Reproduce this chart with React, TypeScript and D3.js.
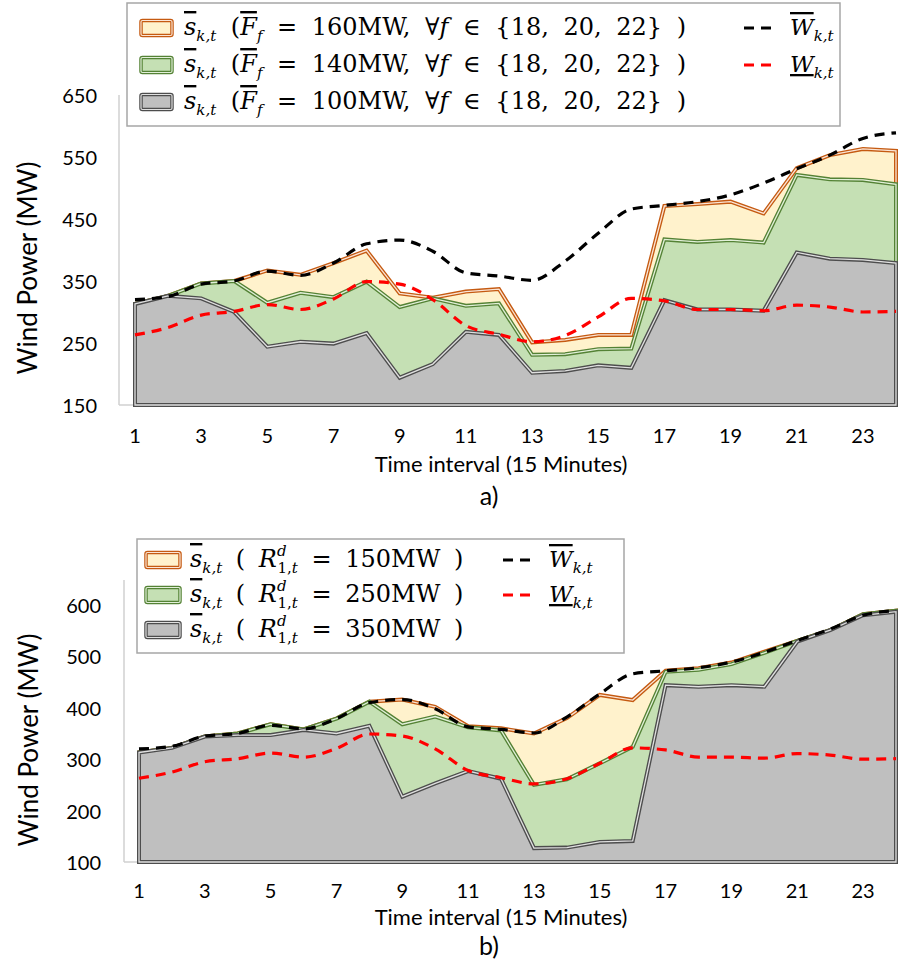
import * as d3 from "d3";

// time intervals (15 min)
const periods = [1, 2, 3, 4, 5, 6, 7, 8, 9, 10, 11, 12, 13, 14, 15, 16, 17, 18, 19, 20, 21, 22, 23, 24];
const xTickLabels = [1, 3, 5, 7, 9, 11, 13, 15, 17, 19, 21, 23];

// wind bounds (same in both panels)
const wUpper = [320, 325, 345, 350, 366, 359, 379, 410, 416, 398, 363, 358, 351, 382, 427, 466, 472, 478, 489, 508, 531, 553, 580, 589];
const wLower = [263, 275, 295, 301, 312, 304, 321, 349, 345, 320, 278, 264, 252, 262, 292, 322, 318, 304, 304, 302, 311, 308, 300, 301];

// panel a) - line capacity F_f
const f160 = [313, 326, 346, 350, 367, 360, 379, 399, 330, 323, 333, 337, 251, 255, 263, 263, 471, 474, 478, 459, 532, 553, 563, 560];
const f140 = [313, 326, 346, 350, 315, 331, 324, 349, 308, 322, 310, 314, 231, 232, 240, 241, 417, 413, 416, 412, 521, 514, 513, 506];
const f100 = [313, 326, 322, 300, 244, 252, 249, 266, 194, 216, 268, 263, 202, 205, 214, 210, 319, 304, 304, 302, 396, 386, 384, 379];
const ticksA = [150, 250, 350, 450, 550, 650];

// panel b) - ramp down R^d
const r150 = [313, 322, 344, 350, 368, 358, 379, 412, 416, 402, 364, 360, 350, 380, 425, 415, 472, 477, 488, 509, 530, 551, 582, 589];
const r250 = [313, 322, 344, 350, 368, 358, 379, 412, 368, 383, 362, 356, 250, 261, 292, 324, 470, 474, 485, 507, 530, 551, 582, 589];
const r350 = [313, 322, 344, 347, 347, 357, 350, 365, 227, 253, 277, 262, 127, 128, 139, 141, 444, 441, 444, 441, 529, 551, 580, 587];
const ticksB = [100, 200, 300, 400, 500, 600];

const orange = { fill: "#fff2cc", dark: "#c55a11", light: "#fbe5d6" };
const green = { fill: "#c5e0b4", dark: "#548235", light: "#e2f0d9" };
const gray = { fill: "#bfbfbf", dark: "#4d4d4d", light: "#e0e0e0" };

const sans = "Lato, 'Open Sans', sans-serif";
const serif = "'DejaVu Serif', serif";

const Sub = ({ children, size = 15 }) => (
  <tspan fontSize={size} fontStyle="italic" dy={6}>
    {children}
  </tspan>
);

// s̄_{k,t}
const SBar = () => (
  <>
    <tspan fontStyle="italic" textDecoration="overline">s</tspan>
    <Sub>k,t</Sub>
  </>
);

const Swatch = ({ x, y, w, h, c }) => (
  <g>
    <rect x={x} y={y - h / 2} width={w} height={h} fill={c.fill} stroke={c.dark} strokeWidth={3.5} rx={1.5} />
    <rect x={x} y={y - h / 2} width={w} height={h} fill="none" stroke={c.light} strokeWidth={1.2} rx={1.5} />
  </g>
);

const DashKey = ({ x, y, color, over }) => (
  <g>
    <line x1={x} x2={x + 30} y1={y} y2={y} stroke={color} strokeWidth={3} strokeDasharray="10,7" />
    <text x={x + 46} y={y + 7} fontFamily={serif} fontSize={23}>
      <tspan fontStyle="italic" textDecoration={over ? "overline" : "underline"}>W</tspan>
      <Sub>k,t</Sub>
    </text>
  </g>
);

const Panel = ({ series, colors, yDomain, yTicks, xRange, yRange, axisX, axisTop, tickRight, xTickY, xTitleY, tag, tagY, yTitleX, yTitleY, legend }) => {
  const x = d3.scaleLinear().domain([1, 24]).range(xRange);
  const y = d3.scaleLinear().domain(yDomain).range(yRange);
  const base = yDomain[0];

  const area = d3
    .area<number>()
    .x((_, i) => x(periods[i]))
    .y0(y(base))
    .y1((d) => y(d));

  const line = d3
    .line<number>()
    .x((_, i) => x(periods[i]))
    .y((d) => y(d))
    .curve(d3.curveMonotoneX);

  return (
    <g>
      {/* axes */}
      <line x1={axisX} x2={axisX} y1={axisTop} y2={y(base)} stroke="#d0d0d0" strokeWidth={1.5} />
      <line x1={axisX} x2={xRange[1]} y1={y(base)} y2={y(base)} stroke="#d0d0d0" strokeWidth={1.5} />
      {yTicks.map((t) => (
        <text key={t} x={tickRight} y={y(t)} textAnchor="end" dominantBaseline="central" fontFamily={sans} fontSize={20} fill="#000">
          {t}
        </text>
      ))}
      {xTickLabels.map((t) => (
        <text key={t} x={x(t)} y={xTickY} textAnchor="middle" dominantBaseline="central" fontFamily={sans} fontSize={20} fill="#000">
          {t}
        </text>
      ))}
      <text x={501} y={xTitleY} textAnchor="middle" dominantBaseline="central" fontFamily={sans} fontSize={22}>
        Time interval (15 Minutes)
      </text>
      <text x={489} y={tagY} textAnchor="middle" dominantBaseline="central" fontFamily={sans} fontSize={25}>
        {tag}
      </text>
      <text
        transform={`translate(${yTitleX},${yTitleY}) rotate(-90)`}
        textAnchor="middle"
        dominantBaseline="central"
        fontFamily={sans}
        fontSize={26}
      >
        Wind Power (MW)
      </text>

      {/* areas, back to front */}
      {series.map((s, k) => (
        <g key={k}>
          <path d={area(s) + "Z"} fill={colors[k].fill} stroke={colors[k].dark} strokeWidth={4} strokeLinejoin="miter" />
          <path d={area(s) + "Z"} fill="none" stroke={colors[k].light} strokeWidth={1.3} />
        </g>
      ))}

      <path d={line(wUpper)} fill="none" stroke="#000" strokeWidth={3.2} strokeDasharray="10,7" />
      <path d={line(wLower)} fill="none" stroke="#ff0000" strokeWidth={3.2} strokeDasharray="10,7" />

      {legend}
    </g>
  );
};

const legendA = (
  <g>
    <rect x={127} y={3} width={713} height={123} fill="#fff" stroke="#a6a6a6" strokeWidth={1.5} />
    {[
      { c: orange, v: "160MW", y: 28 },
      { c: green, v: "140MW", y: 65 },
      { c: gray, v: "100MW", y: 102 },
    ].map((r) => (
      <g key={r.v}>
        <Swatch x={141} y={r.y} w={31} h={15} c={r.c} />
        <text x={184} y={r.y + 7} fontFamily={serif} fontSize={24} wordSpacing={7}>
          <SBar />
          <tspan dy={-6}> (</tspan>
          <tspan fontStyle="italic" textDecoration="overline">F</tspan>
          <Sub>f</Sub>
          <tspan dy={-6}> = {r.v}, ∀</tspan>
          <tspan fontStyle="italic">f</tspan>
          <tspan> ∈ {"{"}18, 20, 22{"}"} )</tspan>
        </text>
      </g>
    ))}
    <DashKey x={744} y={28} color="#000" over={true} />
    <DashKey x={744} y={65} color="#ff0000" over={false} />
  </g>
);

const legendB = (
  <g>
    <rect x={137} y={539} width={487} height={114} fill="#fff" stroke="#a6a6a6" strokeWidth={1.5} />
    {[
      { c: orange, v: "150MW", y: 560 },
      { c: green, v: "250MW", y: 595 },
      { c: gray, v: "350MW", y: 630 },
    ].map((r) => (
      <g key={r.v}>
        <Swatch x={146} y={r.y} w={34} h={15} c={r.c} />
        <text x={190} y={r.y + 7} fontFamily={serif} fontSize={24} wordSpacing={6}>
          <SBar />
          <tspan dy={-6}> ( </tspan>
          <tspan fontStyle="italic">R</tspan>
          <tspan fontSize={15} fontStyle="italic" dy={-11}>d</tspan>
          <tspan fontSize={15} dx={-9} dy={17}>1,</tspan>
          <tspan fontSize={15} fontStyle="italic">t</tspan>
          <tspan dy={-6}> = {r.v} )</tspan>
        </text>
      </g>
    ))}
    <DashKey x={503} y={560} color="#000" over={true} />
    <DashKey x={503} y={595} color="#ff0000" over={false} />
  </g>
);

export default function App() {
  return (
    <svg width={901} height={969} viewBox="0 0 901 969" style={{ position: "absolute", left: 0, top: 0, background: "#fff" }}>
      <rect width={901} height={969} fill="#fff" />
      <Panel
        series={[f160, f140, f100]}
        colors={[orange, green, gray]}
        yDomain={[150, 650]}
        yTicks={ticksA}
        xRange={[135, 896]}
        yRange={[405, 95]}
        axisX={119}
        axisTop={95}
        tickRight={97}
        xTickY={435}
        xTitleY={463}
        tag="a)"
        tagY={495}
        yTitleX={27}
        yTitleY={268}
        legend={legendA}
      />
      <Panel
        series={[r150, r250, r350]}
        colors={[orange, green, gray]}
        yDomain={[100, 600]}
        yTicks={ticksB}
        xRange={[139, 896]}
        yRange={[862, 605]}
        axisX={124}
        axisTop={580}
        tickRight={101}
        xTickY={890}
        xTitleY={916}
        tag="b)"
        tagY={945}
        yTitleX={28}
        yTitleY={740}
        legend={legendB}
      />
    </svg>
  );
}
